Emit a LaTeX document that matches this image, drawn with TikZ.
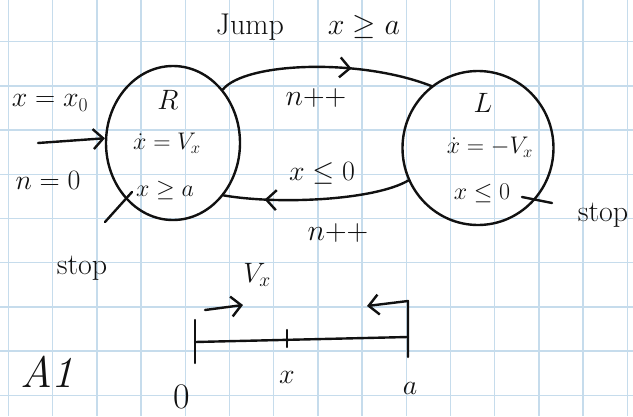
\RequirePackage{fix-cm}
\documentclass[tikz,border=0pt]{standalone}
\usepackage{tikz}
\usetikzlibrary{arrows.meta, shapes.geometric, decorations.markings, calc}
\usepackage{xcolor}
\definecolor{gridblue}{HTML}{c6dcec}
\definecolor{inkblack}{HTML}{111111}
\tikzset{
  pen/.style={draw=inkblack, line width=2.4pt, line cap=round, line join=round},
  state/.style={ellipse, pen, inner sep=0pt},
  hand/.style={text=inkblack, font=\fontsize{24}{28}\selectfont, inner sep=1pt},
  midhand/.style={hand, font=\fontsize{28}{32}\selectfont},
  bighand/.style={hand, font=\fontsize{30}{34}\selectfont},
  barb/.style={-{Straight Barb[length=10pt,width=20pt,line width=2.4pt]}},
  midbarb/.style={decoration={markings,
      mark=at position #1 with {\arrow[line width=2.4pt]{Straight Barb[length=10pt,width=20pt]}}},
      postaction=decorate},
}

\begin{document}
\begin{tikzpicture}[x=1pt, y=-1pt]
  \useasboundingbox (0,0) rectangle (633,416);
  \fill[white] (0,0) rectangle (633,416);
  % squared paper
  \foreach \i in {0,...,14}
    \draw[gridblue, line width=1.4pt] (8.5+44.2*\i,0) -- (8.5+44.2*\i,416);
  \foreach \j in {0,...,8}
    \draw[gridblue, line width=1.4pt] (0,41.7+44.2*\j) -- (633,41.7+44.2*\j);

  % the two states
  \node[state, minimum width=134pt, minimum height=154pt] (R) at (173,143) {};
  \node[state, minimum width=151pt, minimum height=154pt] (L) at (478,148) {};

  \node[midhand] (rname) at (168,100) {$R$};
  \node[hand] (rflow) at (167,143) {$\dot x = V_x$};
  \node[hand] (rinv)  at (165,190) {$x \geq a$};
  \node[midhand] (lname) at (483,103) {$L$};
  \node[hand] (lflow) at (490,147) {$\dot x = -V_x$};
  \node[hand] (linv)  at (482,193) {$x \leq 0$};

  % initial arrow
  \coordinate (init) at (38,143);
  \node[midhand] (x0) at (50,103) {$x = x_0$};
  \node[midhand] (n0) at (48,180) {$n = 0$};
  \draw[pen, barb] (init) -- (R.176);

  % transitions
  \node[bighand] (jump) at (308,27) {Jump\hspace{44pt}$x \geq a$};
  \draw[pen, midbarb=0.62] (R.47) .. controls (245,62) and (360,58) .. (L.127);
  \node[bighand] (inctop) at (316,98) {$n{+}{+}$};
  \draw[pen, midbarb=0.78] (L.205) .. controls (375,200) and (280,205) .. (R.314);
  \node[midhand] (guard) at (322,173) {$x \leq 0$};
  \node[bighand] (incbot) at (338,233) {$n{+}{+}$};

  % stop marks
  \coordinate (rstopa) at (105,222);
  \coordinate (rstopb) at (132,192);
  \draw[pen] (rstopa) -- (rstopb);
  \node[bighand] (rstop) at (82,268) {stop};
  \coordinate (lstopa) at (522,197);
  \coordinate (lstopb) at (552,203);
  \draw[pen] (lstopa) -- (lstopb);
  \node[bighand] (lstop) at (603,215) {stop};

  % the interval
  \coordinate (zero) at (195,342);
  \coordinate (aend) at (408,337);
  \coordinate (mid)  at (287,339);
  \draw[pen] (zero) -- (aend);
  \draw[pen] ($(zero)+(0,-22)$) -- ($(zero)+(0,21)$);
  \draw[pen] ($(mid)+(0,-9)$) -- ($(mid)+(0,8)$);
  \draw[pen, barb] ($(aend)+(0,20)$) -- ($(aend)+(0,-36)$) -- ($(aend)+(-41,-31)$);
  \coordinate (vfrom) at (205,310);
  \coordinate (vto) at (243,305);
  \draw[pen, barb] (vfrom) -- (vto);
  \node[midhand] (vx) at (257,275) {$V_x$};
  \node[hand, font=\fontsize{36}{40}\selectfont] (lbzero) at (182,397) {0};
  \node[midhand] (lbx) at (287,377) {$x$};
  \node[midhand] (lba) at (410,388) {$a$};
  \node[hand, font=\fontsize{44}{48}\selectfont\itshape] (sign) at (47,372) {A1};
\end{tikzpicture}
\end{document}
